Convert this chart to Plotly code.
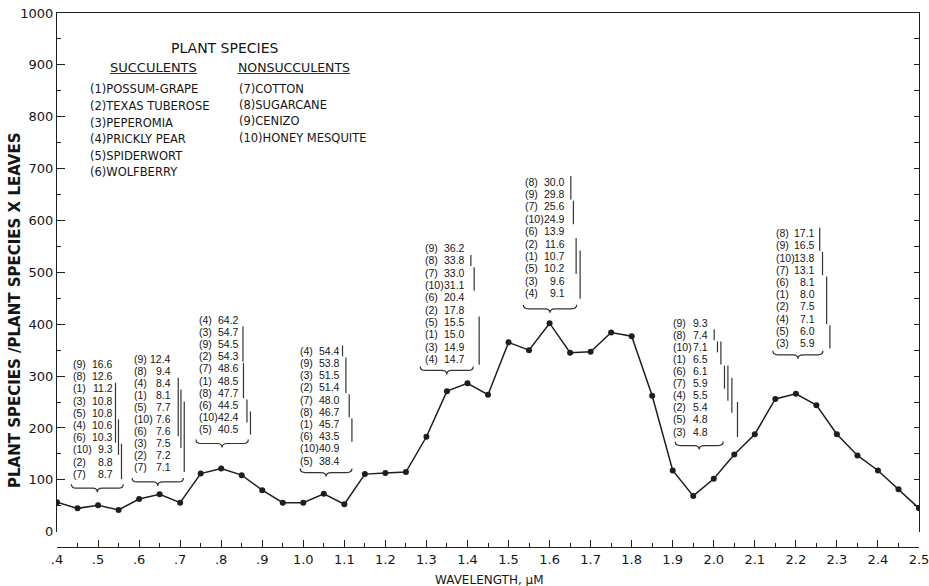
import plotly.graph_objects as go

# ---------------- data ----------------
WAVELENGTH = [0.40, 0.45, 0.50, 0.55, 0.60, 0.65, 0.70, 0.75, 0.80, 0.85,
              0.90, 0.95, 1.00, 1.05, 1.10, 1.15, 1.20, 1.25, 1.30, 1.35,
              1.40, 1.45, 1.50, 1.55, 1.60, 1.65, 1.70, 1.75, 1.80, 1.85,
              1.90, 1.95, 2.00, 2.05, 2.10, 2.15, 2.20, 2.25, 2.30, 2.35,
              2.40, 2.45, 2.50]
RATIO = [57, 45, 51, 42, 63, 72, 56, 112, 122, 109,
         80, 56, 56, 73, 53, 111, 113, 115, 183, 271,
         286, 264, 365, 350, 402, 345, 347, 384, 377, 262,
         118, 69, 102, 149, 188, 256, 266, 244, 188, 147,
         118, 82, 45]

X_TICKS = [0.4, 0.5, 0.6, 0.7, 0.8, 0.9, 1.0, 1.1, 1.2, 1.3, 1.4,
           1.5, 1.6, 1.7, 1.8, 1.9, 2.0, 2.1, 2.2, 2.3, 2.4, 2.5]
X_TICK_TEXT = [".4", ".5", ".6", ".7", ".8", ".9", "1.0", "1.1", "1.2", "1.3", "1.4",
               "1.5", "1.6", "1.7", "1.8", "1.9", "2.0", "2.1", "2.2", "2.3", "2.4", "2.5"]
Y_TICKS = [0, 100, 200, 300, 400, 500, 600, 700, 800, 900, 1000]
Y_TICK_TEXT = ["0", "100", "200", "300", "400", "500", "600", "700", "800", "900", "1000"]

SUCCULENTS = ["(1)POSSUM-GRAPE", "(2)TEXAS TUBEROSE", "(3)PEPEROMIA",
              "(4)PRICKLY PEAR", "(5)SPIDERWORT", "(6)WOLFBERRY"]
NONSUCCULENTS = ["(7)COTTON", "(8)SUGARCANE", "(9)CENIZO", "(10)HONEY MESQUITE"]

# per-band species ranking (species number, value) and non-significant groups (row spans)
B1_SPECIES = [9, 8, 1, 3, 5, 4, 6, 10, 2, 7]
B1_VALUES = [16.6, 12.6, 11.2, 10.8, 10.8, 10.6, 10.3, 9.3, 8.8, 8.7]
B1_GROUPS = [(2, 6), (5, 7), (7, 9)]

B2_SPECIES = [9, 8, 4, 1, 5, 10, 6, 3, 2, 7]
B2_VALUES = [12.4, 9.4, 8.4, 8.1, 7.7, 7.6, 7.6, 7.5, 7.2, 7.1]
B2_GROUPS = [(2, 6), (3, 7), (4, 9)]

B3_SPECIES = [4, 3, 9, 2, 7, 1, 8, 6, 10, 5]
B3_VALUES = [64.2, 54.7, 54.5, 54.3, 48.6, 48.5, 47.7, 44.5, 42.4, 40.5]
B3_GROUPS = [(1, 3), (4, 6), (7, 8), (8, 9)]

B4_SPECIES = [4, 9, 3, 2, 7, 8, 1, 6, 10, 5]
B4_VALUES = [54.4, 53.8, 51.5, 51.4, 48.0, 46.7, 45.7, 43.5, 40.9, 38.4]
B4_GROUPS = [(0, 0), (1, 3), (4, 5), (6, 7)]

B5_SPECIES = [9, 8, 7, 10, 6, 2, 5, 1, 3, 4]
B5_VALUES = [36.2, 33.8, 33.0, 31.1, 20.4, 17.8, 15.5, 15.0, 14.9, 14.7]
B5_GROUPS = [(1, 1), (2, 3), (6, 9)]

B6_SPECIES = [8, 9, 7, 10, 6, 2, 1, 5, 3, 4]
B6_VALUES = [30.0, 29.8, 25.6, 24.9, 13.9, 11.6, 10.7, 10.2, 9.6, 9.1]
B6_GROUPS = [(0, 1), (2, 3), (5, 7), (6, 9)]

B7_SPECIES = [9, 8, 10, 1, 6, 7, 4, 2, 5, 3]
B7_VALUES = [9.3, 7.4, 7.1, 6.5, 6.1, 5.9, 5.5, 5.4, 4.8, 4.8]
B7_GROUPS = [(1, 1), (2, 2), (2, 3), (4, 5), (4, 6), (5, 7), (7, 9)]

B8_SPECIES = [8, 9, 10, 7, 6, 1, 2, 4, 5, 3]
B8_VALUES = [17.1, 16.5, 13.8, 13.1, 8.1, 8.0, 7.5, 7.1, 6.0, 5.9]
B8_GROUPS = [(0, 1), (2, 3), (4, 7), (8, 9)]

# ---------------- layout geometry (placement only) ----------------
ML, MR, MT, MB = 57, 10, 13, 39
W, H = 929, 586
PLOT_W = W - ML - MR
PLOT_H = H - MT - MB
Y0_PX_FROM_BOTTOM = 15.3          # y=0 sits above the detached x axis
Y_DOMAIN0 = Y0_PX_FROM_BOTTOM / PLOT_H
PX_PER_X = PLOT_W / (2.5 - 0.4)
PX_PER_Y = (PLOT_H - Y0_PX_FROM_BOTTOM) / 1000.0

TXT = "#151515"
LINE = "#1e1e1e"
FONT = "DejaVu Sans"
ROW_FONT = "Liberation Sans"

BLOCKS = [
    # species, values, groups, left x, top y, row px, value px, line px offsets, brace x0, x1, y
    (B1_SPECIES, B1_VALUES, B1_GROUPS, 0.4365, 323.5, 12.2, 42.0, [43.5, 46.5, 49.5], 0.435, 0.5615, 84),
    (B2_SPECIES, B2_VALUES, B2_GROUPS, 0.585, 332.6, 11.93, 39.5, [45.3, 48.0, 51.3], 0.583, 0.708, 96),
    (B3_SPECIES, B3_VALUES, B3_GROUPS, 0.7434, 408.4, 12.14, 41.6, [45.0, 45.5, 49.0, 52.5], 0.7385, 0.866, 170),
    (B4_SPECIES, B4_VALUES, B4_GROUPS, 0.9884, 348.6, 12.2, 42.2, [44.0, 47.4, 50.7, 53.4], 0.9925, 1.1185, 114),
    (B5_SPECIES, B5_VALUES, B5_GROUPS, 1.2945, 546.7, 12.33, 41.7, [46.7, 50.0, 55.0], 1.285, 1.414, 311),
    (B6_SPECIES, B6_VALUES, B6_GROUPS, 1.538, 675.0, 12.4, 41.7, [46.7, 49.3, 52.0, 56.0], 1.536, 1.666, 429.6),
    (B7_SPECIES, B7_VALUES, B7_GROUPS, 1.898, 403.0, 12.1, 37.6, [42.3, 45.6, 49.0, 52.6, 56.0, 60.0, 65.6], 1.906, 2.023, 166),
    (B8_SPECIES, B8_VALUES, B8_GROUPS, 2.149, 575.6, 12.2, 41.5, [44.8, 47.6, 51.7, 55.0], 2.144, 2.266, 341),
]

fig = go.Figure()
fig.add_trace(go.Scatter(
    x=WAVELENGTH, y=RATIO, mode="lines+markers",
    line=dict(color=LINE, width=1.5),
    marker=dict(color=LINE, size=6),
    showlegend=False, hoverinfo="x+y",
))
# helper trace so the framing axes (top / right) are drawn
fig.add_trace(go.Scatter(x=[None], y=[None], xaxis="x2", yaxis="y2", showlegend=False))

annotations = []
shapes = []

for species, values, groups, lx, ty, row_px, val_px, line_px, bx0, bx1, by in BLOCKS:
    row_u = row_px / PX_PER_Y
    val_x = lx + val_px / PX_PER_X
    for i, (sp, v) in enumerate(zip(species, values)):
        yy = ty - i * row_u
        annotations.append(dict(x=lx, y=yy, xref="x", yref="y", text=f"({sp})",
                                showarrow=False, xanchor="left", yanchor="middle",
                                font=dict(family=ROW_FONT, size=10.5, color=TXT), borderpad=0))
        annotations.append(dict(x=val_x, y=yy, xref="x", yref="y", text=f"{v:.1f}",
                                showarrow=False, xanchor="right", yanchor="middle",
                                font=dict(family=ROW_FONT, size=10.5, color=TXT), borderpad=0))
    for (r0, r1), off in zip(groups, line_px):
        gx = lx + off / PX_PER_X
        shapes.append(dict(type="line", xref="x", yref="y", x0=gx, x1=gx,
                           y0=ty - (r0 - 0.45) * row_u, y1=ty - (r1 + 0.45) * row_u,
                           line=dict(color="#333333", width=1.2)))
    # brace under each ranking
    h = 4.0 / PX_PER_Y
    dx = 5.0 / PX_PER_X
    xm = (bx0 + bx1) / 2
    path = (f"M {bx0},{by + h} Q {bx0},{by} {bx0 + dx},{by} L {xm - dx},{by} "
            f"Q {xm},{by} {xm},{by - h} Q {xm},{by} {xm + dx},{by} "
            f"L {bx1 - dx},{by} Q {bx1},{by} {bx1},{by + h}")
    shapes.append(dict(type="path", xref="x", yref="y", path=path,
                       line=dict(color="#333333", width=1.2)))

# ---------------- legend of species (paper coords) ----------------
def px_x(p):
    return (p - ML) / PLOT_W

def px_y(p):
    return (H - MB - p) / PLOT_H

annotations.append(dict(x=px_x(225), y=px_y(48), xref="paper", yref="paper",
                        text="PLANT SPECIES", showarrow=False, xanchor="center", yanchor="middle",
                        font=dict(family=FONT, size=14, color=TXT)))
annotations.append(dict(x=px_x(153.5), y=px_y(67.5), xref="paper", yref="paper",
                        text="SUCCULENTS", showarrow=False, xanchor="center", yanchor="middle",
                        font=dict(family=FONT, size=13, color=TXT)))
annotations.append(dict(x=px_x(294), y=px_y(67.5), xref="paper", yref="paper",
                        text="NONSUCCULENTS", showarrow=False, xanchor="center", yanchor="middle",
                        font=dict(family=FONT, size=12.5, color=TXT)))
for x0, x1 in [(110, 197), (237.5, 350)]:
    shapes.append(dict(type="line", xref="paper", yref="paper",
                       x0=px_x(x0), x1=px_x(x1), y0=px_y(73.5), y1=px_y(73.5),
                       line=dict(color="#333333", width=1.2)))
for i, name in enumerate(SUCCULENTS):
    annotations.append(dict(x=px_x(87.5), y=px_y(89.3 + i * 16.6), xref="paper", yref="paper",
                            text=name, showarrow=False, xanchor="left", yanchor="middle",
                            font=dict(family=FONT, size=11.5, color=TXT)))
for i, name in enumerate(NONSUCCULENTS):
    annotations.append(dict(x=px_x(236.5), y=px_y(89.0 + i * 16.2), xref="paper", yref="paper",
                            text=name, showarrow=False, xanchor="left", yanchor="middle",
                            font=dict(family=FONT, size=11.5, color=TXT)))

# axis titles
annotations.append(dict(x=px_x(15), y=px_y(311), xref="paper", yref="paper",
                        text="PLANT SPECIES /PLANT SPECIES X LEAVES", textangle=-90,
                        showarrow=False, xanchor="center", yanchor="middle",
                        font=dict(family=FONT, size=15, color=TXT, weight="bold")))
annotations.append(dict(x=px_x(490), y=px_y(580), xref="paper", yref="paper",
                        text="WAVELENGTH, µM", showarrow=False, xanchor="center", yanchor="middle",
                        font=dict(family=FONT, size=12, color=TXT)))

fig.update_layout(
    width=W, height=H,
    margin=dict(l=ML, r=MR, t=MT, b=MB, autoexpand=False),
    paper_bgcolor="white", plot_bgcolor="white",
    annotations=annotations, shapes=shapes,
    xaxis=dict(range=[0.4, 2.5], anchor="free", position=0, automargin=False,
               tickmode="array", tickvals=X_TICKS, ticktext=X_TICK_TEXT,
               ticks="inside", ticklen=7, tickwidth=1.2, tickcolor=LINE,
               minor=dict(dtick=0.05, tick0=0.45, ticks="inside", ticklen=3.5, tickcolor=LINE, tickwidth=1.2),
               showline=True, linecolor=LINE, linewidth=1.3,
               showgrid=False, zeroline=False, ticklabeloverflow="allow",
               tickfont=dict(family=FONT, size=13, color=TXT)),
    yaxis=dict(range=[0, 1000], domain=[Y_DOMAIN0, 1], anchor="x", automargin=False,
               tickmode="array", tickvals=Y_TICKS, ticktext=Y_TICK_TEXT,
               ticks="inside", ticklen=8, tickwidth=1.2, tickcolor=LINE,
               minor=dict(dtick=50, tick0=0, ticks="inside", ticklen=4, tickcolor=LINE, tickwidth=1.2),
               showline=True, linecolor=LINE, linewidth=1.3,
               showgrid=False, zeroline=False,
               tickfont=dict(family=FONT, size=13, color=TXT)),
    xaxis2=dict(range=[0.4, 2.5], overlaying="x", side="top", anchor="y2", automargin=False,
                showline=True, linecolor=LINE, linewidth=1.3, ticks="",
                showticklabels=False, showgrid=False, zeroline=False),
    yaxis2=dict(range=[0, 1000], overlaying="y", side="right", anchor="x2", automargin=False,
                tickmode="linear", tick0=0, dtick=50,
                ticks="inside", ticklen=5, tickwidth=1.2, tickcolor=LINE,
                showline=True, linecolor=LINE, linewidth=1.3,
                showticklabels=False, showgrid=False, zeroline=False),
)

fig.write_html("out.html")
